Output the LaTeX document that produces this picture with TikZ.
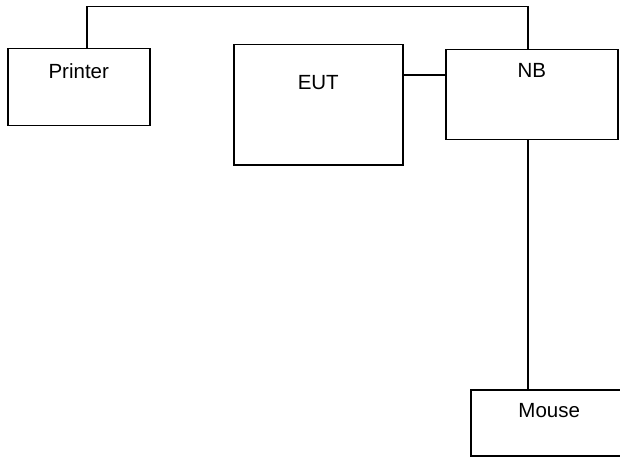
\documentclass[tikz,border=0pt]{standalone}
\usepackage{fontspec}
\setmainfont{Liberation Sans}
\usetikzlibrary{positioning}
\begin{document}
\begin{tikzpicture}[x=1pt, y=-1pt,
    device/.style={rectangle, draw, line width=1.5pt, inner sep=0pt, anchor=north west},
    tag/.style={anchor=north, inner sep=0pt, font=\fontsize{20.5}{24}\selectfont, yshift=-#1},
    wire/.style={line width=1.5pt}
  ]
  \useasboundingbox (0,0) rectangle (620,457);
  \node[device, minimum width=142pt, minimum height=77pt, label={[tag=15pt]north:Printer}] (prn) at (7,48) {};
  \node[device, minimum width=169pt, minimum height=120pt, label={[tag=31pt]north:EUT}] (eut) at (233,44) {};
  \node[device, minimum width=172pt, minimum height=90pt, label={[tag=14pt]north:NB}] (nb) at (445,49) {};
  \node[device, minimum width=157pt, minimum height=66pt, label={[tag=14pt]north:Mouse}] (mse) at (470,389) {};
  \coordinate (top) at (0,6.5);
  \draw[wire] ([xshift=8pt]prn.north) |- ([xshift=-4pt]nb.north |- top) -- ([xshift=-4pt]nb.north);
  \draw[wire] ([yshift=-31pt]eut.north east) -- ([yshift=-31pt]eut.north east -| nb.west);
  \draw[wire] ([xshift=-4pt]nb.south) -- ([xshift=-4pt]nb.south |- mse.north);
\end{tikzpicture}
\end{document}
